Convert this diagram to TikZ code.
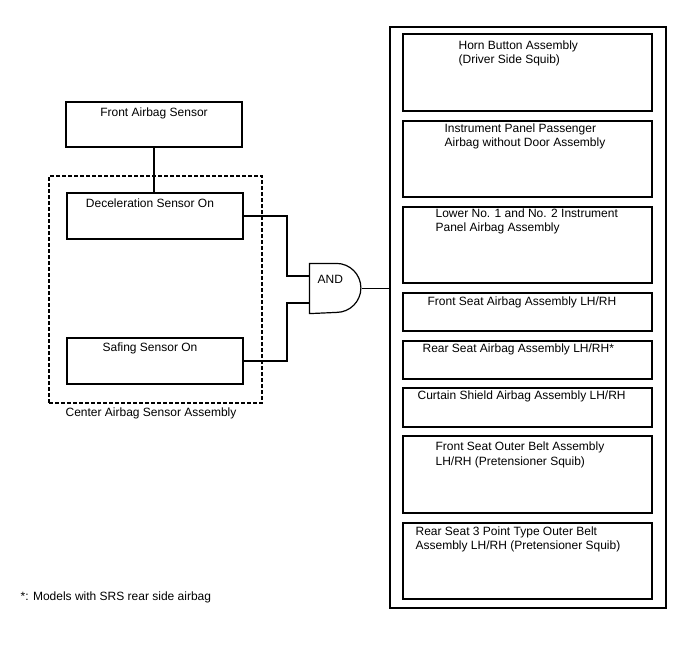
\documentclass[tikz,border=0pt]{standalone}
\usepackage{fontspec}
\setmainfont{Liberation Sans}
\usetikzlibrary{fit}

\begin{document}
\begin{tikzpicture}[x=0.75pt,y=-0.75pt,line width=0.9pt,
  box/.style={draw,inner sep=0pt},
  grp/.style={box,dash pattern=on 3pt off 1.5pt},
  txt/.style={anchor=west,align=left,inner sep=0pt,font=\fontsize{9}{11}\selectfont},
  ctr/.style={txt,anchor=center,align=center}]
\useasboundingbox (0,0) rectangle (688,658);
\node[box,fit={(66,102) (242,147)}] (FAS) {};
\node[grp,fit={(49,176) (262,403)}] (CAS) {};
\node[box,fit={(67,193) (243,239)}] (DEC) {};
\node[box,fit={(67,338) (243,384)}] (SAF) {};
\node[ctr] (tFAS) at (154,113) {Front Airbag Sensor};
\node[ctr] (tDEC) at (150,203) {Deceleration Sensor On};
\node[ctr] (tSAF) at (150,348) {Safing Sensor On};
\node[ctr] (tCAS) at (151,413) {Center Airbag Sensor Assembly};
\node[fit={(310,264) (361,313)},inner sep=0pt] (G) {};
\draw (G.north west) -- ++(27,0) arc[start angle=-90,end angle=90,radius=24.5] -- (G.south west) -- cycle;
\node[txt] (tG) at (317,279) {AND};
\coordinate (G1) at (310,276);
\coordinate (G2) at (310,303);
\node[box,fit={(390,27) (666,608)}] (OUT) {};
\foreach \b/\t/\u in {B1/34/111,B2/121/197,B3/207/283,B4/293/331,B5/341/379,B6/388/427,B7/436/513,B8/523/599}
  \node[box,fit={(403,\t) (652,\u)}] (\b) {};
\node[txt] (t1) at (458,53.3) {Horn Button Assembly\\(Driver Side Squib)};
\node[txt] (t2) at (444,136.5) {Instrument Panel Passenger\\Airbag without Door Assembly};
\node[txt] (t3) at (435,221.5) {Lower No. 1 and No. 2 Instrument\\Panel Airbag Assembly};
\node[txt] (t4) at (427,302) {Front Seat Airbag Assembly LH/RH};
\node[txt] (t5) at (422,349) {Rear Seat Airbag Assembly LH/RH*};
\node[txt] (t6) at (417,396) {Curtain Shield Airbag Assembly LH/RH};
\node[txt] (t7) at (435,455) {Front Seat Outer Belt Assembly\\LH/RH (Pretensioner Squib)};
\node[txt] (t8) at (415,539.5) {Rear Seat 3 Point Type Outer Belt\\Assembly LH/RH (Pretensioner Squib)};
\node[txt] (note) at (20,597) {*: Models with SRS rear side airbag};
\draw (FAS.south) -- (FAS.south |- DEC.north);
\draw (DEC.east) -- (DEC.east -| 287,0) |- (G1);
\draw (SAF.east) -- (SAF.east -| 287,0) |- (G2);
\draw (G.east) -- (G.east -| OUT.west);
\end{tikzpicture}
\end{document}
